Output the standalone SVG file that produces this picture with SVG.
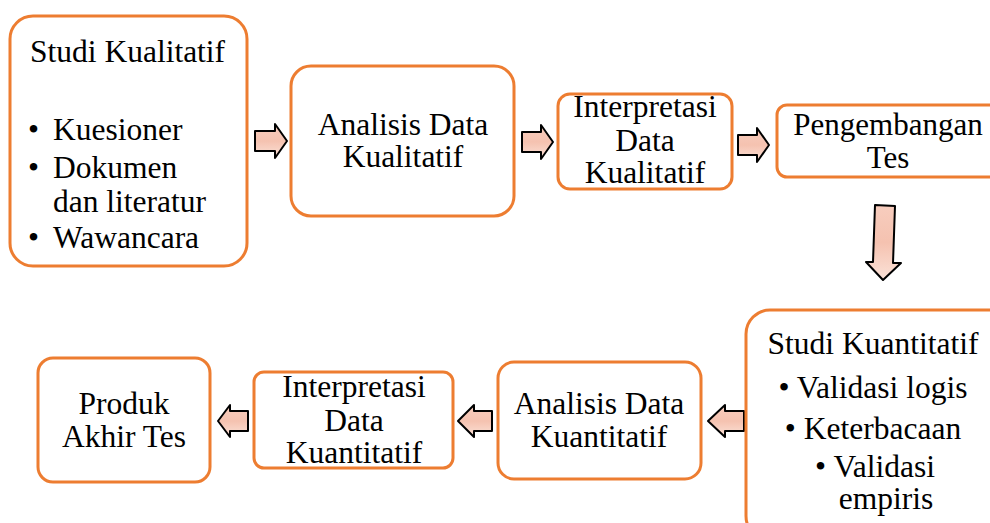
<svg xmlns="http://www.w3.org/2000/svg" width="990" height="523" viewBox="0 0 990 523">
<style>
.box{fill:#fff;stroke:#ED7D31;stroke-width:3}
.t{font-family:'Liberation Serif','Times New Roman',serif;font-size:31.5px;fill:#000}
.s{font-size:31px}
.c{text-anchor:middle}
.arr{fill:url(#g);stroke:#000;stroke-width:2;stroke-linejoin:round}
</style>
<defs>
<linearGradient id="g" x1="0" y1="0" x2="0" y2="1">
<stop offset="0" stop-color="#F7CDBE"/>
<stop offset="0.5" stop-color="#F5C2B0"/>
<stop offset="1" stop-color="#FBE2D8"/>
</linearGradient>
</defs>
<rect width="990" height="523" fill="#fff"/>
<g id="connectors">
<polygon class="arr" points="255,131 275,131 275,124 287,141 275,158 275,151 255,151"/>
<polygon class="arr" points="522,132 541,132 541,125 553,142 541,159 541,152 522,152"/>
<polygon class="arr" points="738,135 757,135 757,128 769,145 757,162 757,155 738,155"/>
<polygon class="arr" points="875,205 895,206 893,263 901,263 883,280 866,262 873,262"/>
<polygon class="arr" points="744,411 725,411 725,405 708,421 725,437 725,431 744,431"/>
<polygon class="arr" points="492,411 474,411 474,405 458,421 474,437 474,431 492,431"/>
<polygon class="arr" points="248,411 230,411 230,405 218,421 230,437 230,431 248,431"/>
</g>
<g id="n1">
<rect class="box" x="10" y="16" width="237" height="250" rx="23"/>
<text class="t" x="30" y="62">Studi Kualitatif</text>
<text class="t" x="28" y="140">•</text><text class="t" x="53" y="140">Kuesioner</text>
<text class="t" x="28" y="178">•</text><text class="t" x="53" y="178">Dokumen</text>
<text class="t" x="53" y="212">dan literatur</text>
<text class="t" x="28" y="248">•</text><text class="t" x="53" y="248">Wawancara</text>
</g>
<g id="n2">
<rect class="box" x="291" y="66" width="223" height="150" rx="20"/>
<text class="t c" x="403" y="135">Analisis Data</text>
<text class="t c" x="403" y="167">Kualitatif</text>
</g>
<g id="n3">
<rect class="box" x="558" y="94" width="174" height="95" rx="12"/>
<text class="t c" x="645" y="117">Interpretasi</text>
<text class="t c" x="645" y="151">Data</text>
<text class="t c" x="645" y="183">Kualitatif</text>
</g>
<g id="n4">
<rect class="box" x="777" y="105" width="230" height="72" rx="10"/>
<text class="t s c" x="888" y="135">Pengembangan</text>
<text class="t s c" x="888" y="168">Tes</text>
</g>
<g id="n5">
<rect class="box" x="746" y="310" width="270" height="230" rx="24"/>
<text class="t c" x="873" y="354">Studi Kuantitatif</text>
<text class="t c" x="873" y="398">• Validasi logis</text>
<text class="t c" x="873" y="439">• Keterbacaan</text>
<text class="t c" x="875" y="477">• Validasi</text>
<text class="t c" x="886" y="509">empiris</text>
</g>
<g id="n6">
<rect class="box" x="498" y="362" width="203" height="117" rx="16"/>
<text class="t c" x="599" y="414">Analisis Data</text>
<text class="t c" x="599" y="447">Kuantitatif</text>
</g>
<g id="n7">
<rect class="box" x="254" y="372" width="199" height="96" rx="10"/>
<text class="t c" x="354" y="397">Interpretasi</text>
<text class="t c" x="354" y="431">Data</text>
<text class="t c" x="354" y="463">Kuantitatif</text>
</g>
<g id="n8">
<rect class="box" x="38" y="358" width="172" height="124" rx="15"/>
<text class="t c" x="124" y="414">Produk</text>
<text class="t c" x="124" y="447">Akhir Tes</text>
</g>
</svg>
